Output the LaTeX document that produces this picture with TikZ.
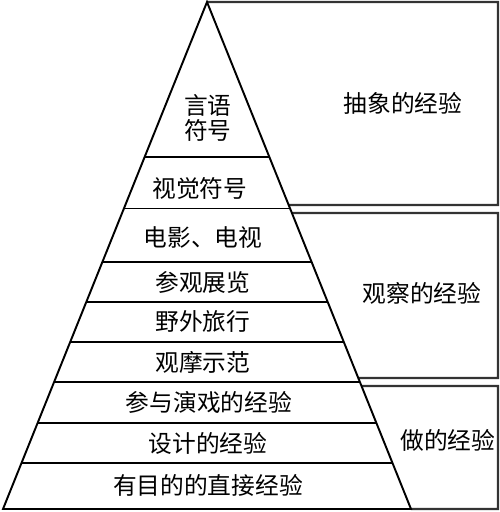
\documentclass[tikz,border=0pt]{standalone}
\usepackage{fontspec}
\newfontfamily\cjk{Noto Sans CJK SC}
\usetikzlibrary{calc}
\begin{document}
\begin{tikzpicture}[x=0.02cm,y=-0.02cm,line width=1.1pt,
    every node/.style={font=\cjk\fontsize{13.5pt}{14.5pt}\selectfont,inner sep=0pt},
    grp/.style={draw=black!80,line width=1.2pt}]
    \useasboundingbox (0,0) rectangle (500,512);
    \coordinate (apex) at (207,2);
    \coordinate (bl) at (3,509);
    \coordinate (br) at (411,509);
    \draw[grp] (apex) -- (498,2) -- (498,205) -- ($(apex)!203/507!(br)$);
    \draw[grp] ($(apex)!211/507!(br)$) -- (498,213) -- (498,378)
        -- ($(apex)!376/507!(br)$);
    \draw[grp] ($(apex)!384/507!(br)$) -- (498,386) -- (498,509) -- (br);
    \draw (apex) -- (bl) -- (br) -- cycle;
    \foreach \t in {155,206.5,260,300,340,380,421,461}
        \draw ($(apex)!\t/507!(bl)$) -- ($(apex)!\t/507!(br)$);
    \node[align=center] (yuyan) at (208,118) {言语\\符号};
    \node (shijue) at (200,188) {视觉符号};
    \node (dianying) at (203,238) {电影、电视};
    \node (zhanlan) at (203,282) {参观展览};
    \node (lvxing) at (203,322) {野外旅行};
    \node (shifan) at (203,362) {观摩示范};
    \node (yanxi) at (209,402) {参与演戏的经验};
    \node (sheji) at (208,443) {设计的经验};
    \node (zhijie) at (208,485) {有目的的直接经验};
    \node (chouxiang) at (403,103) {抽象的经验};
    \node (guancha) at (422,293) {观察的经验};
    \node (zuo) at (448,440) {做的经验};
\end{tikzpicture}
\end{document}
